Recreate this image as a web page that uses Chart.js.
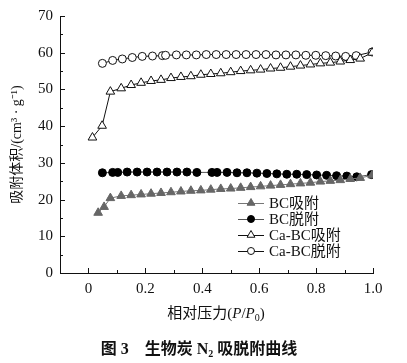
<!DOCTYPE html>
<html>
<head>
<meta charset="utf-8">
<script src="https://cdn.jsdelivr.net/npm/chart.js@4.4.1/dist/chart.umd.min.js"></script>
<style>
  body { margin: 0; background: #fff; }
  #wrap { position: relative; width: 407px; height: 363px; font-family: "Liberation Serif", "Noto Sans CJK SC", serif; color: #111; }
  #xtitle { position: absolute; left: 0; width: 432px; top: 301px; text-align: center; font-size: 15px; }
  #caption { position: absolute; left: 0; width: 398px; top: 335px; text-align: center; font-size: 16px; font-weight: bold; }
  sub { font-size: 10px; vertical-align: -3px; }
</style>
</head>
<body>
<div id="wrap">
  <canvas id="chart" width="407" height="363"></canvas>
  <div id="xtitle">相对压力(<i>P</i>/<i>P</i><sub>0</sub>)</div>
  <div id="caption">图 3&nbsp;&nbsp;&nbsp;&nbsp;生物炭 N<sub>2</sub> 吸脱附曲线</div>
</div>
<script>
// Data
const seriesNames = ['BC吸附', 'BC脱附', 'Ca-BC吸附', 'Ca-BC脱附'];

const bcAdsX = [0.034, 0.055, 0.077, 0.115, 0.150, 0.185, 0.220, 0.255, 0.290, 0.325, 0.360, 0.395, 0.430, 0.465, 0.500,
  0.535, 0.570, 0.605, 0.640, 0.675, 0.710, 0.745, 0.780, 0.815, 0.850, 0.885, 0.920, 0.955, 0.997];
const bcAdsY = [16.4, 18.0, 20.4, 21.0, 21.2, 21.4, 21.6, 21.8, 22.0, 22.2, 22.4, 22.5, 22.7, 22.9, 23.0,
  23.2, 23.4, 23.6, 23.8, 24.0, 24.2, 24.4, 24.6, 24.9, 25.1, 25.3, 25.6, 25.9, 26.6];

const bcDesX = [0.049, 0.085, 0.103, 0.136, 0.171, 0.206, 0.241, 0.276, 0.311, 0.346, 0.381, 0.434, 0.452, 0.487,
  0.522, 0.557, 0.592, 0.627, 0.662, 0.697, 0.732, 0.767, 0.802, 0.837, 0.872, 0.908, 0.943, 0.995];
const bcDesY = [27.3, 27.4, 27.4, 27.5, 27.5, 27.5, 27.5, 27.5, 27.5, 27.5, 27.4, 27.4, 27.4, 27.4,
  27.3, 27.3, 27.2, 27.1, 27.0, 26.9, 26.9, 26.8, 26.7, 26.6, 26.5, 26.4, 26.2, 26.8];

const caAdsX = [0.014, 0.048, 0.077, 0.115, 0.150, 0.185, 0.220, 0.255, 0.290, 0.325, 0.360, 0.395, 0.430, 0.465, 0.500,
  0.535, 0.570, 0.605, 0.640, 0.675, 0.710, 0.745, 0.780, 0.815, 0.850, 0.885, 0.920, 0.955, 0.997];
const caAdsY = [36.9, 40.1, 49.4, 50.3, 51.2, 51.8, 52.3, 52.6, 53.1, 53.4, 53.6, 54.0, 54.2, 54.4, 54.7,
  55.0, 55.2, 55.4, 55.7, 55.9, 56.2, 56.5, 56.8, 57.1, 57.3, 57.6, 58.0, 58.4, 60.0];

const caDesX = [0.049, 0.085, 0.119, 0.154, 0.189, 0.225, 0.260, 0.271, 0.309, 0.344, 0.379, 0.414, 0.449, 0.484,
  0.519, 0.554, 0.589, 0.624, 0.659, 0.694, 0.729, 0.764, 0.799, 0.834, 0.869, 0.904, 0.941, 0.997];
const caDesY = [57.1, 57.9, 58.3, 58.7, 59.0, 59.1, 59.2, 59.3, 59.4, 59.4, 59.4, 59.5, 59.5, 59.5,
  59.5, 59.5, 59.5, 59.5, 59.4, 59.4, 59.4, 59.3, 59.3, 59.2, 59.1, 59.0, 59.2, 60.2];

const xTicks = [0, 0.2, 0.4, 0.6, 0.8, 1.0];
const xMinorTicks = [0.1, 0.3, 0.5, 0.7, 0.9];
const yTicks = [0, 10, 20, 30, 40, 50, 60, 70];
const yMinorTicks = [5, 15, 25, 35, 45, 55, 65];

function toPoints(xs, ys) {
  return xs.map((x, i) => ({ x: x, y: ys[i] }));
}

const FONT = '"Liberation Serif", "Noto Sans CJK SC", serif';
Chart.defaults.font.family = FONT;
Chart.defaults.color = '#111';

// inward tick marks, like the original plot
const innerTicks = {
  id: 'innerTicks',
  afterDraw(chart) {
    const ctx = chart.ctx;
    const xs = chart.scales.x, ys = chart.scales.y;
    const bottom = chart.chartArea.bottom, left = chart.chartArea.left;
    ctx.save();
    ctx.strokeStyle = '#111';
    ctx.lineWidth = 1;
    ctx.beginPath();
    xTicks.concat(xMinorTicks).forEach(v => {
      const len = xTicks.includes(v) ? 5 : 3;
      const px = Math.round(xs.getPixelForValue(v)) + 0.5;
      ctx.moveTo(px, bottom);
      ctx.lineTo(px, bottom - len);
    });
    yTicks.concat(yMinorTicks).forEach(v => {
      const len = yTicks.includes(v) ? 5 : 3;
      const py = Math.round(ys.getPixelForValue(v)) + 0.5;
      ctx.moveTo(left, py);
      ctx.lineTo(left + len, py);
    });
    ctx.stroke();
    ctx.restore();
  }
};

// legend with line + marker inside the plot
const lineLegend = {
  id: 'lineLegend',
  afterDraw(chart) {
    const ctx = chart.ctx;
    ctx.save();
    chart.data.datasets.forEach((ds, i) => {
      const y = 203 + i * 16;
      ctx.strokeStyle = ds.borderColor;
      ctx.lineWidth = 1;
      ctx.beginPath();
      ctx.moveTo(238, y + 0.5);
      ctx.lineTo(264, y + 0.5);
      ctx.stroke();
      ctx.fillStyle = ds.pointBackgroundColor;
      ctx.strokeStyle = ds.pointBorderColor;
      Chart.helpers.drawPoint(ctx, {
        pointStyle: ds.pointStyle,
        radius: ds.pointStyle === 'triangle' ? 4.5 : 3.5,
        borderWidth: 1,
        rotation: 0
      }, 251, y);
      ctx.fillStyle = '#111';
      ctx.font = '15px ' + FONT;
      ctx.textBaseline = 'middle';
      ctx.fillText(ds.label, 269, y + 1);
    });
    ctx.restore();
  }
};

const ctx = document.getElementById('chart').getContext('2d');
new Chart(ctx, {
  type: 'scatter',
  data: {
    datasets: [
      {
        label: seriesNames[0],
        data: toPoints(bcAdsX, bcAdsY),
        showLine: true,
        borderColor: '#777',
        borderWidth: 1,
        pointStyle: 'triangle',
        pointRadius: 5,
        pointBackgroundColor: '#666',
        pointBorderColor: '#666',
        pointBorderWidth: 1
      },
      {
        label: seriesNames[1],
        data: toPoints(bcDesX, bcDesY),
        showLine: true,
        borderColor: '#555',
        borderWidth: 1,
        pointStyle: 'circle',
        pointRadius: 4,
        pointBackgroundColor: '#000',
        pointBorderColor: '#000',
        pointBorderWidth: 1
      },
      {
        label: seriesNames[2],
        data: toPoints(caAdsX, caAdsY),
        showLine: true,
        borderColor: '#111',
        borderWidth: 1,
        pointStyle: 'triangle',
        pointRadius: 5,
        pointBackgroundColor: '#fff',
        pointBorderColor: '#111',
        pointBorderWidth: 1
      },
      {
        label: seriesNames[3],
        data: toPoints(caDesX, caDesY),
        showLine: true,
        borderColor: '#111',
        borderWidth: 1,
        pointStyle: 'circle',
        pointRadius: 4,
        pointBackgroundColor: '#fff',
        pointBorderColor: '#111',
        pointBorderWidth: 1
      }
    ]
  },
  options: {
    responsive: false,
    animation: false,
    layout: { padding: { top: 15, right: 34, left: 0, bottom: 0 } },
    plugins: {
      legend: { display: false },
      tooltip: { enabled: false }
    },
    scales: {
      x: {
        type: 'linear',
        min: -0.1,
        max: 1.0,
        afterBuildTicks: s => { s.ticks = xTicks.map(v => ({ value: v })); },
        afterFit: s => { s.height = 90; },
        grid: { display: false, drawTicks: false },
        border: { display: true, color: '#111', width: 1 },
        ticks: {
          autoSkip: false,
          maxRotation: 0,
          padding: 7,
          font: { size: 15 },
          color: '#111',
          callback: v => (v === 0 ? '0' : v.toFixed(1))
        }
      },
      y: {
        min: 0,
        max: 70,
        afterBuildTicks: s => { s.ticks = yTicks.map(v => ({ value: v })); },
        afterFit: s => { s.width = 60; },
        grid: { display: false, drawTicks: false },
        border: { display: true, color: '#111', width: 1 },
        ticks: {
          autoSkip: false,
          padding: 7,
          font: { size: 15 },
          color: '#111'
        },
        title: {
          display: true,
          text: '吸附体积/(cm³ · g⁻¹)',
          font: { size: 14 },
          color: '#111',
          padding: { top: 9, bottom: 0 }
        }
      }
    }
  },
  plugins: [innerTicks, lineLegend]
});
</script>
</body>
</html>
